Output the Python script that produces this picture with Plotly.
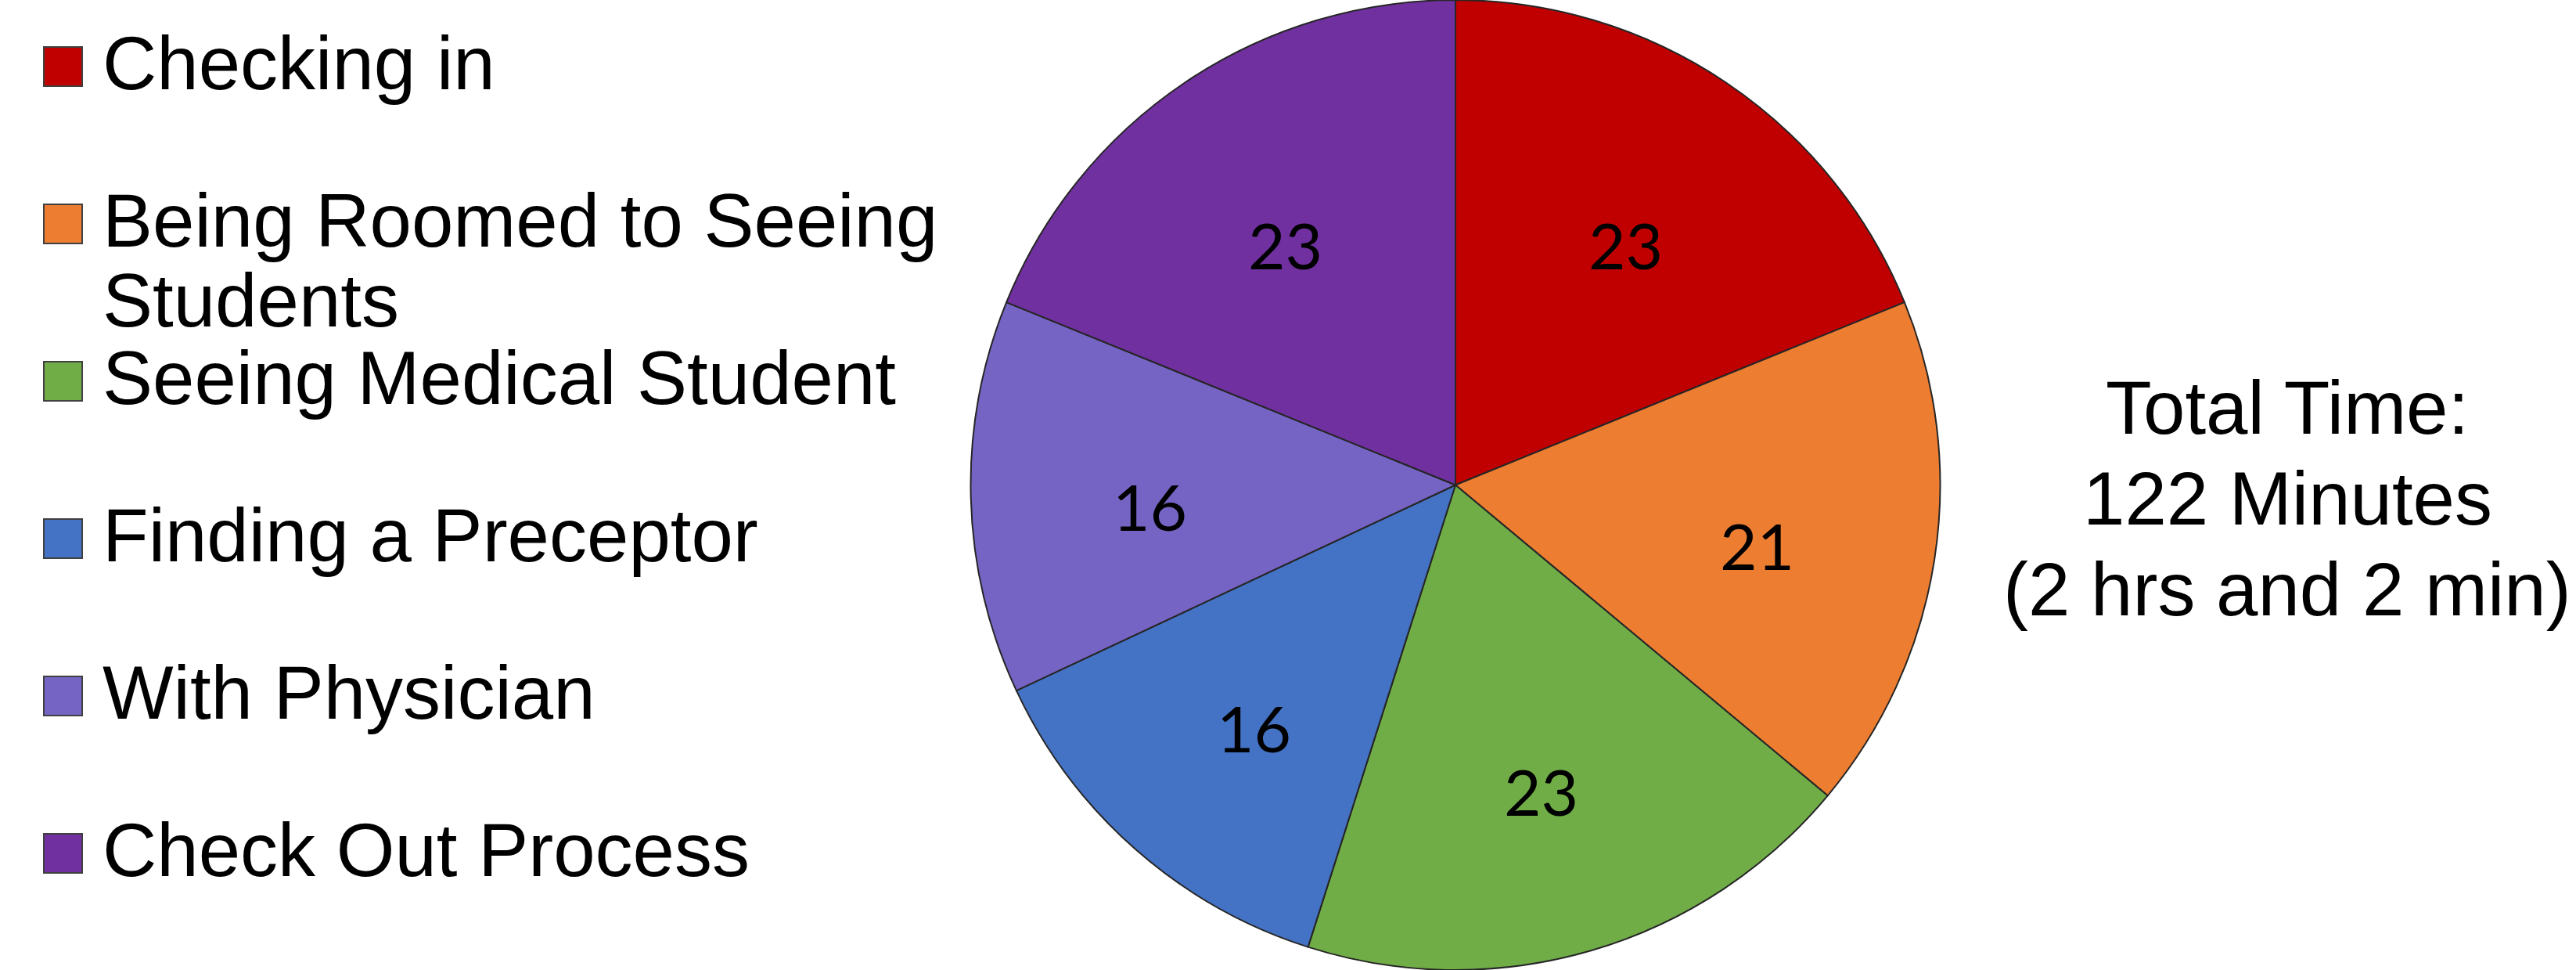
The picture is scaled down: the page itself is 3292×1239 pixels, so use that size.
import math
import plotly.graph_objects as go

W, H = 3292, 1239

labels = ["Checking in", "Being Roomed to Seeing Students", "Seeing Medical Student",
          "Finding a Preceptor", "With Physician", "Check Out Process"]
legend_lines = [["Checking in"], ["Being Roomed to Seeing", "Students"], ["Seeing Medical Student"],
                ["Finding a Preceptor"], ["With Physician"], ["Check Out Process"]]
values = [23, 21, 23, 16, 16, 23]
colors = ["#C00000", "#ED7D31", "#70AD47", "#4472C4", "#7664C4", "#7030A0"]
total_lines = ["Total Time:", "122 Minutes", "(2 hrs and 2 min)"]

# pie geometry (pixels)
cx_px, cy_px = 1860, 619.5
R = 619.5
dom_x = [(cx_px - R) / W, (cx_px + R) / W]

fig = go.Figure(go.Pie(
    labels=labels, values=values, sort=False, direction="clockwise", rotation=0,
    marker=dict(colors=colors, line=dict(color="#262626", width=2)),
    textinfo="none", hoverinfo="label+value", showlegend=False,
    domain=dict(x=dom_x, y=[0, 1]),
))

annotations = []
shapes = []

# value labels inside slices, placed at mid-angle
tot = sum(values)
cum = 0
for v in values:
    mid = (cum + v / 2) / tot * 2 * math.pi
    cum += v
    k = 0.63
    px = cx_px + k * R * math.sin(mid)
    py = cy_px - k * R * math.cos(mid) + 16
    annotations.append(dict(x=px / W, y=1 - py / H, xref="paper", yref="paper",
                            text=str(v), showarrow=False, xanchor="center", yanchor="middle",
                            font=dict(family="Lato, Open Sans, sans-serif", size=82, color="#000000")))

# custom legend
step = 201
first_center = 81
line_gap = 102
fs = 96
font_main = "Liberation Sans, Arial, sans-serif"
for i, (lines, c) in enumerate(zip(legend_lines, colors)):
    yc = first_center + step * i
    for j, t in enumerate(lines):
        ytop = yc + j * line_gap - 55
        annotations.append(dict(x=130 / W, y=1 - ytop / H, xref="paper", yref="paper",
                                text=t, showarrow=False, xanchor="left", yanchor="top", align="left",
                                borderpad=0,
                                font=dict(family=font_main, size=fs, color="#000000")))
    sq_c = yc + 4
    shapes.append(dict(type="rect", xref="paper", yref="paper",
                       x0=56 / W, x1=105 / W, y0=1 - (sq_c - 25) / H, y1=1 - (sq_c + 25) / H,
                       fillcolor=c, line=dict(color="#404040", width=2)))

# total time text
total_first = 521
total_gap = 116
for j, t in enumerate(total_lines):
    ytop = total_first + j * total_gap - 55
    annotations.append(dict(x=2923 / W, y=1 - ytop / H, xref="paper", yref="paper",
                            text=t, showarrow=False, xanchor="center", yanchor="top", align="center",
                            borderpad=0,
                            font=dict(family=font_main, size=fs, color="#000000")))

fig.update_layout(
    width=W, height=H, margin=dict(l=0, r=0, t=0, b=0),
    paper_bgcolor="#FFFFFF", plot_bgcolor="#FFFFFF",
    annotations=annotations, shapes=shapes, showlegend=False,
)

fig.write_html("out.html")
